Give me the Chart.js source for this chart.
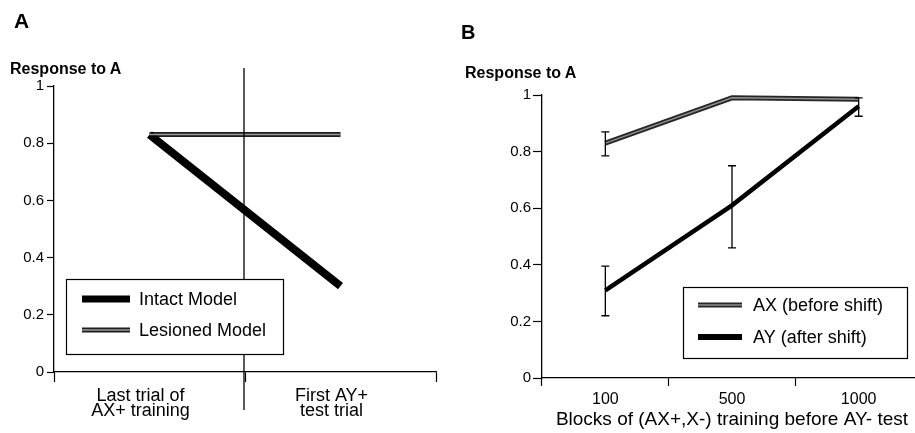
<!DOCTYPE html>
<html>
<head>
<meta charset="utf-8">
<script src="https://cdn.jsdelivr.net/npm/chart.js@4/dist/chart.umd.min.js"></script>
<style>
  html, body { margin: 0; padding: 0; background: #fff; overflow: hidden; }
  #page { position: relative; width: 915px; height: 433px; overflow: hidden; font-family: "Liberation Sans", Arial, Helvetica, sans-serif; color: #000; }
  .lbl { position: absolute; white-space: nowrap; line-height: 1; font-weight: bold; }
  canvas { position: absolute; top: 0; }
</style>
</head>
<body>
<div id="page">
  <canvas id="chart-a" width="460" height="433" style="left:0"></canvas>
  <canvas id="chart-b" width="470" height="433" style="left:455px"></canvas>
  <div class="lbl" style="left:14px; top:10px; font-size:21px;">A</div>
  <div class="lbl" style="left:461px; top:22px; font-size:20px;">B</div>
  <div class="lbl" style="left:10px; top:61px; font-size:16px;">Response to A</div>
  <div class="lbl" style="left:465px; top:65px; font-size:16px;">Response to A</div>
</div>
<script>
// ---------- data ----------
const trialLabels = [["Last trial of", "AX+ training"], ["First AY+", "test trial"]];
const intactValues = [0.83, 0.30];
const lesionedValues = [0.83, 0.83];

const blockLabels = ["100", "500", "1000"];
const axValues = [0.83, 0.99, 0.985];
const ayValues = [0.31, 0.61, 0.96];
// error bars (low / high), null = none drawn
const axErrLow = [0.785, null, null];
const axErrHigh = [0.87, null, null];
const ayErrLow = [0.22, 0.46, 0.925];
const ayErrHigh = [0.395, 0.75, 0.99];

const yTicks = [0, 0.2, 0.4, 0.6, 0.8, 1];

const FONT = '"Liberation Sans", Arial, Helvetica, sans-serif';

// draws a "hollow" double line: dark edges with a light core
function strokeHollow(ctx, pts, outer, inner, wOut, wIn) {
  ctx.save();
  ctx.beginPath();
  pts.forEach((p, i) => (i ? ctx.lineTo(p[0], p[1]) : ctx.moveTo(p[0], p[1])));
  ctx.strokeStyle = outer;
  ctx.lineWidth = wOut;
  ctx.stroke();
  ctx.strokeStyle = inner;
  ctx.lineWidth = wIn;
  ctx.stroke();
  ctx.restore();
}

// legend box drawn inside the plot
const boxLegend = {
  id: "boxLegend",
  afterDraw(chart, args, opts) {
    const ctx = chart.ctx;
    ctx.save();
    ctx.fillStyle = "#fff";
    ctx.fillRect(opts.x, opts.y, opts.w, opts.h);
    ctx.strokeStyle = "#000";
    ctx.lineWidth = 1.2;
    ctx.strokeRect(opts.x + 0.5, opts.y + 0.5, opts.w, opts.h);
    opts.entries.forEach((e, i) => {
      const ds = chart.data.datasets[e];
      const y = opts.rows[i];
      if (ds.hollow) {
        strokeHollow(ctx, [[opts.sx[0], y], [opts.sx[1], y]], ds.borderColor, ds.hollow, ds.borderWidth, 1.5);
      } else {
        ctx.beginPath();
        ctx.moveTo(opts.sx[0], y);
        ctx.lineTo(opts.sx[1], y);
        ctx.strokeStyle = ds.borderColor;
        ctx.lineWidth = opts.solidWidth;
        ctx.stroke();
      }
      ctx.fillStyle = "#000";
      ctx.font = opts.font;
      ctx.textBaseline = "middle";
      ctx.textAlign = "left";
      ctx.fillText(ds.label, opts.tx, y + 1);
    });
    ctx.restore();
  }
};

// light core for the hollow datasets
const hollowCore = {
  id: "hollowCore",
  afterDatasetsDraw(chart) {
    const ctx = chart.ctx;
    chart.data.datasets.forEach((ds, i) => {
      if (!ds.hollow) return;
      const meta = chart.getDatasetMeta(i);
      ctx.save();
      ctx.beginPath();
      meta.data.forEach((p, k) => (k ? ctx.lineTo(p.x, p.y) : ctx.moveTo(p.x, p.y)));
      ctx.strokeStyle = ds.hollow;
      ctx.lineWidth = 1.5;
      ctx.stroke();
      ctx.restore();
    });
  }
};

// vertical divider between the two trials (panel A)
const divider = {
  id: "divider",
  afterDatasetsDraw(chart, args, opts) {
    if (!opts.show) return;
    const x = chart.scales.x;
    const px = (x.getPixelForValue(0) + x.getPixelForValue(1)) / 2 - 1;
    const ctx = chart.ctx;
    ctx.save();
    ctx.beginPath();
    ctx.moveTo(px, opts.top);
    ctx.lineTo(px, opts.bottom);
    ctx.strokeStyle = "#000";
    ctx.lineWidth = 1.3;
    ctx.stroke();
    ctx.restore();
  }
};

// error bars (panel B)
const errorBars = {
  id: "errorBars",
  afterDatasetsDraw(chart, args, opts) {
    if (!opts.sets) return;
    const ctx = chart.ctx;
    const y = chart.scales.y;
    ctx.save();
    ctx.strokeStyle = "#000";
    ctx.lineWidth = 1.3;
    opts.sets.forEach(s => {
      const meta = chart.getDatasetMeta(s.dataset);
      s.low.forEach((lo, i) => {
        if (lo === null) return;
        const px = meta.data[i].x;
        const y1 = y.getPixelForValue(lo);
        const y2 = y.getPixelForValue(s.high[i]);
        ctx.beginPath();
        ctx.moveTo(px, y1); ctx.lineTo(px, y2);
        ctx.moveTo(px - 4, y1); ctx.lineTo(px + 4, y1);
        ctx.moveTo(px - 4, y2); ctx.lineTo(px + 4, y2);
        ctx.stroke();
      });
    });
    ctx.restore();
  }
};

function yScale(width, tickLen, pad) {
  return {
    min: 0, max: 1,
    afterFit: s => { s.width = width; },
    afterBuildTicks: s => { s.ticks = yTicks.map(v => ({ value: v })); },
    ticks: {
      color: "#000", padding: pad, font: { family: FONT, size: 15 },
      callback: v => String(+v.toFixed(1))
    },
    grid: { drawOnChartArea: false, color: "#000", tickLength: tickLen, tickWidth: 1.2 },
    border: { color: "#000", width: 1.3 }
  };
}

// ---------- panel A ----------
new Chart(document.getElementById("chart-a").getContext("2d"), {
  type: "line",
  data: {
    labels: trialLabels,
    datasets: [
      { label: "Intact Model", data: intactValues, borderColor: "#000", borderWidth: 8, pointRadius: 0, borderCapStyle: "butt" },
      { label: "Lesioned Model", data: lesionedValues, borderColor: "#1e1e1e", hollow: "#9a9a9a", borderWidth: 5, pointRadius: 0 }
    ]
  },
  options: {
    responsive: false,
    animation: false,
    devicePixelRatio: 1,
    layout: { padding: { left: 0, top: 86, right: 24, bottom: 0 } },
    scales: {
      x: {
        type: "category",
        offset: true,
        afterFit: s => { s.height = 61; },
        ticks: { color: "#000", padding: 6, labelOffset: -9, font: { family: FONT, size: 18, lineHeight: 0.85 } },
        grid: { offset: true, drawOnChartArea: false, color: "#000", tickLength: 10, tickWidth: 1.2 },
        border: { color: "#000", width: 1.3 }
      },
      y: yScale(54, 7, 3)
    },
    plugins: {
      legend: { display: false },
      tooltip: { enabled: false },
      divider: { show: true, top: 68, bottom: 410 },
      boxLegend: {
        x: 66, y: 279, w: 217, h: 75,
        rows: [299, 330], sx: [82, 130], tx: 139, solidWidth: 7,
        entries: [0, 1], font: "18px " + FONT
      }
    }
  },
  plugins: [hollowCore, divider, boxLegend]
});

// ---------- panel B ----------
new Chart(document.getElementById("chart-b").getContext("2d"), {
  type: "line",
  data: {
    labels: blockLabels,
    datasets: [
      { label: "AX (before shift)", data: axValues, borderColor: "#262626", hollow: "#8e8e8e", borderWidth: 5, pointRadius: 0 },
      { label: "AY (after shift)", data: ayValues, borderColor: "#000", borderWidth: 4.5, pointRadius: 0 }
    ]
  },
  options: {
    responsive: false,
    animation: false,
    devicePixelRatio: 1,
    layout: { padding: { left: 0, top: 95, right: 3, bottom: 0 } },
    scales: {
      x: {
        type: "category",
        offset: true,
        afterFit: s => { s.height = 55; },
        ticks: { color: "#000", padding: 4, font: { family: FONT, size: 16 } },
        grid: { offset: true, drawOnChartArea: false, color: "#000", tickLength: 8, tickWidth: 1.2 },
        border: { color: "#000", width: 1.3 },
        title: {
          display: true, text: "Blocks of (AX+,X-) training before AY- test",
          color: "#000", font: { family: FONT, size: 19, lineHeight: 1 }, padding: { top: 0, bottom: 4 }
        }
      },
      y: yScale(87, 9, 2)
    },
    plugins: {
      legend: { display: false },
      tooltip: { enabled: false },
      errorBars: {
        sets: [
          { dataset: 0, low: axErrLow, high: axErrHigh },
          { dataset: 1, low: ayErrLow, high: ayErrHigh }
        ]
      },
      boxLegend: {
        x: 228, y: 287, w: 224, h: 71,
        rows: [305, 337], sx: [243, 287], tx: 298, solidWidth: 6,
        entries: [0, 1], font: "18px " + FONT
      }
    }
  },
  plugins: [hollowCore, errorBars, boxLegend]
});
</script>
</body>
</html>
